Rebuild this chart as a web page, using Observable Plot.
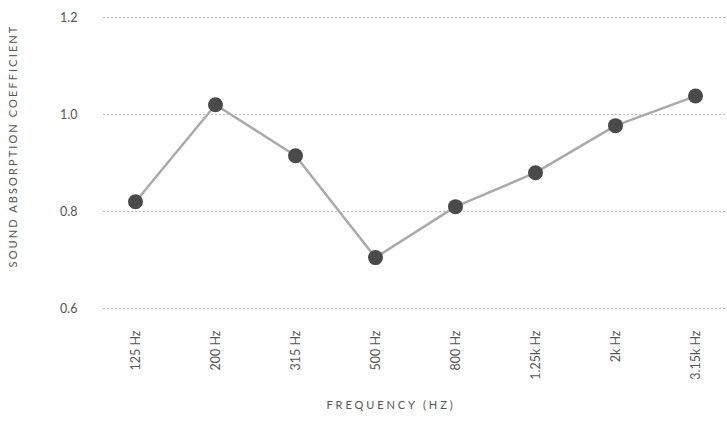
<!DOCTYPE html>
<html>
<head>
<meta charset="utf-8">
<script src="https://cdn.jsdelivr.net/npm/d3@7"></script>
<script src="https://cdn.jsdelivr.net/npm/@observablehq/plot@0.6"></script>
<style>
  html, body { margin: 0; padding: 0; background: #fff; }
  #chart { width: 727px; height: 439px; }
  svg { font-family: Lato, "Open Sans", sans-serif; }
</style>
</head>
<body>
<div id="chart"></div>
<script>
const frequencies = ["125 Hz", "200 Hz", "315 Hz", "500 Hz", "800 Hz", "1.25k Hz", "2k Hz", "3.15k Hz"];
const absorption = [0.82, 1.02, 0.915, 0.705, 0.81, 0.88, 0.977, 1.038];
const yTicks = [0.6, 0.8, 1.0, 1.2];
const xTitle = "FREQUENCY (HZ)";
const yTitle = "SOUND ABSORPTION COEFFICIENT";

const data = frequencies.map((f, i) => ({freq: f, value: absorption[i]}));

const W = 727, H = 439;
const chart = Plot.plot({
  width: W,
  height: H,
  marginLeft: 103,
  marginRight: 0,
  marginTop: 17,
  marginBottom: 131,
  style: {fontFamily: "Lato, 'Open Sans', sans-serif", color: "#555", background: "#fff"},
  x: {type: "point", domain: frequencies, padding: 0.38, label: null},
  y: {domain: [0.6, 1.2], label: null},
  marks: [
    Plot.gridY(yTicks, {stroke: "#bbbbbb", strokeOpacity: 1, strokeWidth: 1, strokeDasharray: "2,2"}),
    Plot.axisY(yTicks, {tickSize: 0, tickPadding: 26, tickFormat: d3.format(".1f"), fontSize: 12.5, fill: "#555", label: null}),
    Plot.axisX({tickSize: 0, tickRotate: -90, tickPadding: 22, fontSize: 12.5, fill: "#555", label: null}),
    Plot.line(data, {x: "freq", y: "value", stroke: "#aaaaaa", strokeWidth: 2.5}),
    Plot.dot(data, {x: "freq", y: "value", r: 7.5, fill: "#4a4a4a", stroke: "none"})
  ]
});
document.getElementById("chart").appendChild(chart);

const svg = d3.select(chart);
svg.append("text")
  .attr("transform", "translate(17,146) rotate(-90)")
  .attr("text-anchor", "middle")
  .attr("fill", "#555")
  .attr("font-size", 11)
  .attr("letter-spacing", "2.1px")
  .text(yTitle);
svg.append("text")
  .attr("x", 391)
  .attr("y", 409)
  .attr("text-anchor", "middle")
  .attr("fill", "#555")
  .attr("font-size", 11)
  .attr("letter-spacing", "2.9px")
  .text(xTitle);
</script>
</body>
</html>
